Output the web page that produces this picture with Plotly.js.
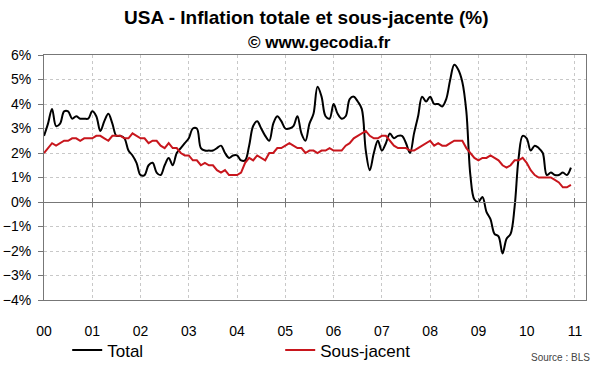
<!DOCTYPE html>
<html>
<head>
<meta charset="utf-8">
<script src="https://cdn.plot.ly/plotly-3.0.1.min.js"></script>
<style>html,body{margin:0;padding:0;background:#fff;}#chart{width:600px;height:372px;}</style>
</head>
<body>
<div id="chart"></div>
<script>
// Monthly data, January 2000 to December 2010 (year-on-year, %)
var startYear = 2000;
var total = [
  2.7, 3.2, 3.8, 3.1, 3.2, 3.7, 3.7, 3.4, 3.5, 3.4, 3.4, 3.4,
  3.7, 3.5, 2.9, 3.3, 3.6, 3.2, 2.7, 2.7, 2.6, 2.1, 1.9, 1.6,
  1.1, 1.1, 1.5, 1.6, 1.2, 1.1, 1.5, 1.8, 1.5, 2.0, 2.2, 2.4,
  2.6, 3.0, 3.0, 2.2, 2.1, 2.1, 2.1, 2.2, 2.3, 2.0, 1.8, 1.9,
  1.9, 1.7, 1.7, 2.3, 3.1, 3.3, 3.0, 2.7, 2.5, 3.2, 3.5, 3.3,
  3.0, 3.0, 3.1, 3.5, 2.8, 2.5, 3.2, 3.6, 4.7, 4.3, 3.5, 3.4,
  4.0, 3.6, 3.4, 3.5, 4.2, 4.3, 4.1, 3.8, 2.1, 1.3, 2.0, 2.5,
  2.1, 2.4, 2.8, 2.6, 2.7, 2.7, 2.4, 2.0, 2.8, 3.5, 4.3, 4.1,
  4.3, 4.0, 4.0, 3.9, 4.2, 5.0, 5.6, 5.4, 4.9, 3.7, 1.1, 0.1,
  0.0, 0.2, -0.4, -0.7, -1.3, -1.4, -2.1, -1.5, -1.3, -0.2, 1.8, 2.7,
  2.6, 2.1, 2.3, 2.2, 2.0, 1.1, 1.2, 1.1, 1.1, 1.2, 1.1, 1.4
];
var sousJacent = [
  2.0, 2.2, 2.4, 2.3, 2.4, 2.5, 2.5, 2.6, 2.6, 2.5, 2.6, 2.6,
  2.6, 2.7, 2.7, 2.6, 2.5, 2.7, 2.7, 2.7, 2.6, 2.6, 2.8, 2.7,
  2.6, 2.6, 2.4, 2.5, 2.5, 2.3, 2.2, 2.4, 2.2, 2.2, 2.0, 1.9,
  1.9, 1.7, 1.7, 1.5, 1.6, 1.5, 1.5, 1.3, 1.2, 1.3, 1.1, 1.1,
  1.1, 1.2, 1.6, 1.8, 1.7, 1.9, 1.8, 1.7, 2.0, 2.0, 2.2, 2.2,
  2.3, 2.4, 2.3, 2.2, 2.2, 2.0, 2.1, 2.1, 2.0, 2.1, 2.1, 2.2,
  2.1, 2.1, 2.1, 2.3, 2.4, 2.6, 2.7, 2.8, 2.9, 2.7, 2.6, 2.6,
  2.7, 2.7, 2.5, 2.3, 2.2, 2.2, 2.2, 2.1, 2.1, 2.2, 2.3, 2.4,
  2.5, 2.3, 2.4, 2.3, 2.3, 2.4, 2.5, 2.5, 2.5, 2.2, 2.0, 1.8,
  1.7, 1.8, 1.8, 1.9, 1.8, 1.7, 1.5, 1.4, 1.5, 1.7, 1.7, 1.8,
  1.6, 1.3, 1.1, 1.0, 1.0, 1.0, 1.0, 0.9, 0.8, 0.6, 0.6, 0.7
];
var yearTicks = [2000, 2001, 2002, 2003, 2004, 2005, 2006, 2007, 2008, 2009, 2010, 2011];
var yearLabels = ['00', '01', '02', '03', '04', '05', '06', '07', '08', '09', '10', '11'];
var titleText = 'USA - Inflation totale et sous-jacente (%)';
var subtitleText = '© www.gecodia.fr';
var sourceText = 'Source : BLS';

var months = total.map(function (_, i) { return startYear + i / 12; });

var FONT = 'Liberation Sans, Arial, Helvetica, sans-serif';
var xRange = [2000, 2011.229];
var axisCol = '#777777';

var traces = [
  {x: months, y: total, name: 'Total', type: 'scatter', mode: 'lines',
   line: {color: '#000000', width: 2, shape: 'spline', smoothing: 1}, hoverinfo: 'skip'},
  {x: months, y: sousJacent, name: 'Sous-jacent', type: 'scatter', mode: 'lines',
   line: {color: '#c8161d', width: 2}, hoverinfo: 'skip'},
  {x: [null], y: [null], xaxis: 'x2', showlegend: false, hoverinfo: 'skip', mode: 'lines'},
  {x: [null], y: [null], xaxis: 'x3', showlegend: false, hoverinfo: 'skip', mode: 'lines'}
];

var layout = {
  width: 600, height: 372,
  margin: {l: 44, r: 14, t: 55, b: 72, pad: 0},
  paper_bgcolor: '#ffffff', plot_bgcolor: '#ffffff',
  font: {family: FONT, size: 14, color: '#000000'},
  showlegend: true,
  legend: {orientation: 'h', xref: 'container', yref: 'container', x: 0.112, y: 0.106,
           xanchor: 'left', yanchor: 'top', font: {size: 17, family: FONT},
           entrywidth: 168, itemwidth: 30, tracegroupgap: 0, bgcolor: 'rgba(0,0,0,0)'},
  xaxis: {range: xRange, tickmode: 'array', tickvals: yearTicks, ticktext: yearLabels,
          showgrid: true, gridcolor: '#c8c8c8', griddash: 'dot', gridwidth: 1,
          zeroline: false, ticks: '', showline: true, linecolor: axisCol, linewidth: 1, mirror: true,
          ticklabelstandoff: 18, tickfont: {size: 14, family: FONT}, fixedrange: true},
  xaxis2: {overlaying: 'x', anchor: 'free', position: 0.4, side: 'bottom', range: xRange,
           tickmode: 'array', tickvals: yearTicks.slice(1), ticks: 'outside', ticklen: 4,
           tickcolor: axisCol, showticklabels: false, showgrid: false, zeroline: false,
           showline: true, linecolor: axisCol, linewidth: 1, fixedrange: true},
  xaxis3: {overlaying: 'x', anchor: 'free', position: 0.4, side: 'top', range: xRange,
           tickmode: 'array', tickvals: yearTicks.slice(1), ticks: 'outside', ticklen: 4,
           tickcolor: axisCol, showticklabels: false, showgrid: false, zeroline: false,
           showline: false, fixedrange: true},
  yaxis: {range: [-4, 6], dtick: 1, tick0: 0, ticksuffix: '%',
          showgrid: true, gridcolor: '#c8c8c8', griddash: 'dot', gridwidth: 1,
          zeroline: false, ticks: 'outside', ticklen: 5, tickcolor: axisCol,
          showline: true, linecolor: axisCol, linewidth: 1, mirror: true,
          ticklabelstandoff: 4, tickfont: {size: 14, family: FONT}, fixedrange: true},
  annotations: [
    {text: '<b>' + titleText + '</b>', xref: 'paper', yref: 'paper', x: 0.485, y: (300 - 18) / 245,
     xanchor: 'center', yanchor: 'middle', showarrow: false, font: {size: 19, family: FONT, color: '#000'}},
    {text: '<b>' + subtitleText + '</b>', xref: 'paper', yref: 'paper', x: (319 - 44) / 542, y: (300 - 42) / 245,
     xanchor: 'center', yanchor: 'middle', showarrow: false, font: {size: 17, family: FONT, color: '#000'}},
    {text: sourceText, xref: 'paper', yref: 'paper', x: (592 - 44) / 542, y: (300 - 357) / 245,
     xanchor: 'right', yanchor: 'middle', showarrow: false, font: {size: 10, family: FONT, color: '#444'}}
  ]
};

Plotly.newPlot('chart', traces, layout, {staticPlot: true, displayModeBar: false});
</script>
</body>
</html>
